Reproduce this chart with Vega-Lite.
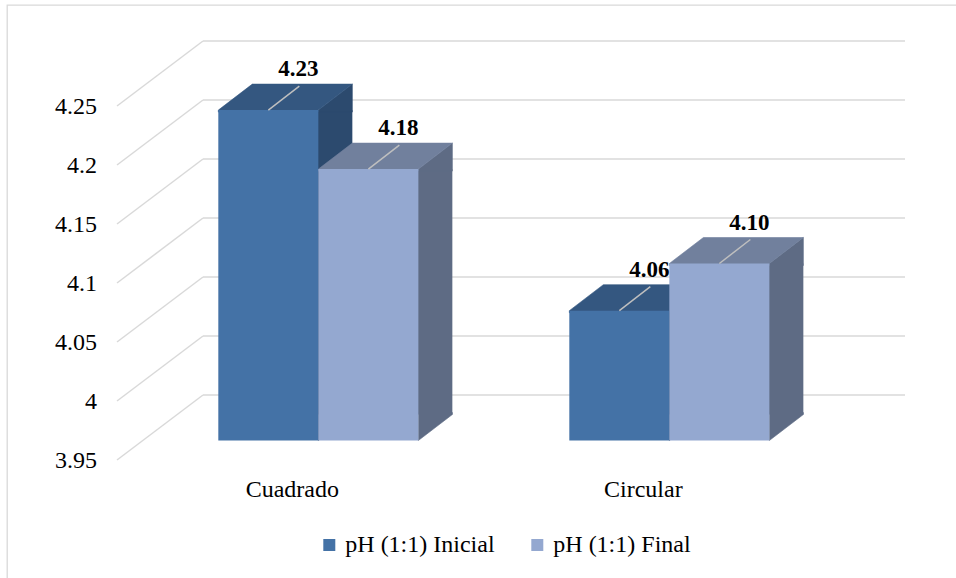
{
  "$schema": "https://vega.github.io/schema/vega-lite/v6.json",
  "width": 965,
  "height": 590,
  "autosize": {"type": "none"},
  "padding": {"left": 7, "top": 5, "right": -16, "bottom": -17},
  "background": "#ffffff",
  "config": {
    "font": "Liberation Serif",
    "view": {"stroke": "#D9D9D9", "strokeWidth": 1.3},
    "axis": {"disable": true}
  },
  "datasets": {
    "mediciones": [
      {"forma": "Cuadrado", "serie": "pH (1:1) Inicial", "ph": 4.23},
      {"forma": "Cuadrado", "serie": "pH (1:1) Final", "ph": 4.18},
      {"forma": "Circular", "serie": "pH (1:1) Inicial", "ph": 4.06},
      {"forma": "Circular", "serie": "pH (1:1) Final", "ph": 4.10}
    ],
    "escala": [
      {"ph": 3.95}, {"ph": 4.0}, {"ph": 4.05}, {"ph": 4.1},
      {"ph": 4.15}, {"ph": 4.2}, {"ph": 4.25}
    ]
  },
  "layer": [
    {
      "data": {"name": "escala"},
      "encoding": {
        "x": {"datum": 0, "type": "quantitative",
              "scale": {"domain": [-0.193732, 1.180912], "nice": false, "zero": false},
              "axis": null},
        "y": {"field": "ph", "type": "quantitative",
              "scale": {"domain": [3.819068, 4.319068], "nice": false, "zero": false},
              "axis": null}
      },
      "layer": [
        {
          "mark": {"type": "rule", "color": "#D9D9D9", "strokeWidth": 1.5,
                   "xOffset": -26, "x2Offset": 60, "yOffset": 19.5, "y2Offset": -45.5},
          "encoding": {
            "x2": {"datum": 0},
            "y2": {"field": "ph"}
          }
        },
        {
          "mark": {"type": "rule", "color": "#D9D9D9", "strokeWidth": 1.5,
                   "xOffset": 60, "x2Offset": 60, "yOffset": -45.5, "y2Offset": -45.5},
          "encoding": {
            "x2": {"datum": 1},
            "y2": {"field": "ph"}
          }
        },
        {
          "mark": {"type": "text", "align": "right", "baseline": "middle", "dx": -46, "dy": 20.5,
                   "font": "Liberation Serif", "fontSize": 24, "color": "#000000"},
          "encoding": {
            "text": {"field": "ph", "type": "quantitative", "format": "~f"}
          }
        }
      ]
    },
    {
      "data": {"name": "mediciones"},
      "encoding": {
        "x": {"field": "forma", "type": "nominal",
              "scale": {"domain": ["Cuadrado", "Circular"], "paddingInner": 0.43, "paddingOuter": 0.589644, "align": 0.5105},
              "axis": null},
        "y": {"field": "ph", "type": "quantitative",
              "scale": {"domain": [3.819068, 4.319068], "nice": false, "zero": false}, "axis": null}
      },
      "layer": [
        {
          "transform": [{"filter": "datum.serie === 'pH (1:1) Inicial'"}],
          "mark": {"type": "bar", "width": 100, "xOffset": -16, "y2Offset": -26, "color": "#2C4A6E"},
          "encoding": {"y2": {"datum": 3.95}}
        },
        {
          "transform": [{"filter": "datum.serie === 'pH (1:1) Final'"}],
          "mark": {"type": "bar", "width": 100, "xOffset": 84, "y2Offset": -26, "color": "#5E6B84"},
          "encoding": {"y2": {"datum": 3.95}}
        },
        {
          "mark": {"type": "point", "shape": "M50,2L50,0L84,-26L84,2Z", "size": 4,
                   "filled": true, "opacity": 1, "strokeWidth": 0.6},
          "encoding": {
            "xOffset": {"field": "serie", "type": "nominal",
                        "scale": {"domain": ["pH (1:1) Inicial", "pH (1:1) Final"], "paddingInner": 0, "paddingOuter": 0}},
            "fill": {"condition": {"test": "datum.serie === 'pH (1:1) Inicial'", "value": "#2C4A6E"}, "value": "#5E6B84"},
            "stroke": {"condition": {"test": "datum.serie === 'pH (1:1) Inicial'", "value": "#2C4A6E"}, "value": "#5E6B84"}
          }
        },
        {
          "mark": {"type": "point", "shape": "M50,-28L84,-28L84,-26L50,0Z", "size": 4,
                   "filled": true, "opacity": 1, "strokeWidth": 0.6},
          "encoding": {
            "xOffset": {"field": "serie", "type": "nominal",
                        "scale": {"domain": ["pH (1:1) Inicial", "pH (1:1) Final"], "paddingInner": 0, "paddingOuter": 0}},
            "y": {"datum": 3.95, "type": "quantitative"},
            "fill": {"condition": {"test": "datum.serie === 'pH (1:1) Inicial'", "value": "#2C4A6E"}, "value": "#5E6B84"},
            "stroke": {"condition": {"test": "datum.serie === 'pH (1:1) Inicial'", "value": "#2C4A6E"}, "value": "#5E6B84"}
          }
        },
        {
          "mark": {"type": "point", "shape": "M-50,2L50,2L50,0L84,-26L-16,-26L-50,0Z", "size": 4,
                   "filled": true, "opacity": 1, "strokeWidth": 0.6},
          "encoding": {
            "xOffset": {"field": "serie", "type": "nominal",
                        "scale": {"domain": ["pH (1:1) Inicial", "pH (1:1) Final"], "paddingInner": 0, "paddingOuter": 0}},
            "fill": {"condition": {"test": "datum.serie === 'pH (1:1) Inicial'", "value": "#345780"}, "value": "#71809D"},
            "stroke": {"condition": {"test": "datum.serie === 'pH (1:1) Inicial'", "value": "#345780"}, "value": "#71809D"}
          }
        },
        {
          "mark": {"type": "bar"},
          "encoding": {
            "xOffset": {"field": "serie", "type": "nominal",
                        "scale": {"domain": ["pH (1:1) Inicial", "pH (1:1) Final"], "paddingInner": 0, "paddingOuter": 0}},
            "y2": {"datum": 3.95},
            "color": {"field": "serie", "type": "nominal",
                      "scale": {"domain": ["pH (1:1) Inicial", "pH (1:1) Final"], "range": ["#4472A6", "#94A8D0"]},
                      "legend": {"title": null, "orient": "none", "legendX": 310.3, "legendY": 528,
                                 "direction": "horizontal", "symbolType": "square", "symbolSize": 144,
                                 "symbolStrokeWidth": 0, "labelFont": "Liberation Serif", "labelFontSize": 24,
                                 "labelColor": "#000000", "labelOffset": 4, "columnPadding": 30,
                                 "padding": 0, "labelLimit": 400}}
          }
        },
        {
          "mark": {"type": "point", "shape": "M0,0L31,-24", "size": 4, "filled": false,
                   "opacity": 1, "stroke": "#BFBFBF", "strokeWidth": 1.5},
          "encoding": {
            "xOffset": {"field": "serie", "type": "nominal",
                        "scale": {"domain": ["pH (1:1) Inicial", "pH (1:1) Final"], "paddingInner": 0, "paddingOuter": 0}}
          }
        },
        {
          "mark": {"type": "text", "dx": 30, "dy": -34, "baseline": "alphabetic", "align": "center",
                   "font": "Liberation Serif", "fontSize": 23, "fontWeight": "bold", "color": "#000000"},
          "encoding": {
            "xOffset": {"field": "serie", "type": "nominal",
                        "scale": {"domain": ["pH (1:1) Inicial", "pH (1:1) Final"], "paddingInner": 0, "paddingOuter": 0}},
            "text": {"field": "ph", "type": "quantitative", "format": ".2f"}
          }
        },
        {
          "transform": [{"filter": "datum.serie === 'pH (1:1) Inicial'"}],
          "mark": {"type": "text", "dx": -26, "dy": 56, "baseline": "alphabetic", "align": "center",
                   "font": "Liberation Serif", "fontSize": 24, "color": "#000000"},
          "encoding": {
            "y": {"datum": 3.95, "type": "quantitative"},
            "text": {"field": "forma", "type": "nominal"}
          }
        }
      ]
    }
  ],
  "resolve": {"scale": {"x": "independent"}}
}
